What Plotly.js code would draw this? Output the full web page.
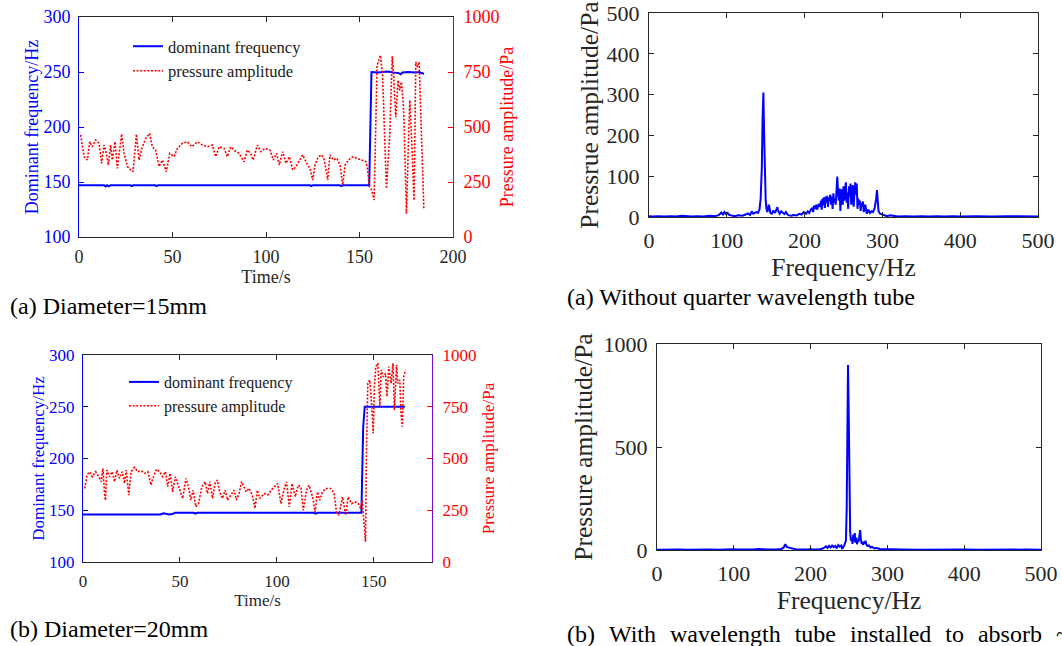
<!DOCTYPE html>
<html><head><meta charset="utf-8">
<script src="https://cdn.plot.ly/plotly-3.0.1.min.js"></script>
<style>html,body{margin:0;padding:0;background:#fff;overflow:hidden}#chart{width:1062px;height:646px}</style>
</head><body><div id="chart"></div>
<script>
// ---------- Panel (a) Diameter=15mm ----------
const freqA_t = [0,13.5,14.2,15,16,16.8,27.5,28.2,29,40.8,41.5,42.2,123.5,124.2,125,139.5,140.2,141,155.2,156.4,160,165,168,170,171,172,173,176,180,182,183,184.5];
const freqA_f = [147,147,146,147,146,147,147,146.3,147,147,146.3,147,147,146.3,147,147,146.3,147,147,250,249.5,250.5,249.5,249.5,249,248,249.5,250,249.5,250,249,248.5];
const presA_t = [0.9,2.7,4.5,5.7,7.1,8.9,10.7,12.1,13.4,14.6,15.7,16.9,17.8,19.3,20.5,21.8,22.8,24.1,25.9,27.6,28.9,30.7,32.1,33.9,35.7,37.8,39.2,41,42.8,44.6,46.7,48.5,50.8,52.6,55.3,57.9,60.3,63.3,66,68.6,71.3,73.1,74.9,77.6,79.3,81.1,83.8,85.6,88.3,90,91.8,93.1,95.4,97.2,99.5,102.1,103.9,105.7,107.1,108.9,110.7,112.5,114.3,116,117.8,119.6,121.8,123.5,125,126.2,128,129.8,131.2,133,134.2,136,137.8,139.6,141,142.3,144,146.4,148.5,151.2,153.5,154.2,155.3,156.5,157.8,159.4,161.2,162.3,164.4,166.2,167.5,168.3,169.4,170.6,171.5,172.4,173.3,173.8,175.1,176.2,176.9,177.9,179.2,180.1,181,181.9,183.1,184.4];
const presA_v = [464,365,350,433,410,441,426,335,418,380,327,418,350,433,312,410,468,380,320,305,297,468,350,410,448,471,410,395,320,350,297,380,365,403,426,433,410,433,418,410,418,365,410,403,365,410,388,380,342,395,380,350,418,388,403,395,350,380,327,388,335,365,305,320,350,373,335,312,259,327,365,373,350,259,373,350,358,327,236,327,350,365,358,350,342,312,229,214,168,780,826,742,220,470,821,727,545,712,667,705,621,530,106,439,621,439,167,795,773,795,470,129];

// ---------- Panel (b) Diameter=20mm ----------
const freqB_t = [0,40,41.5,43,44.5,46,47.5,57,58,59,62,63,64,66,67,68,119,120,121,143.6,144.5,145.3,166];
const freqB_f = [146,146,147,146.3,146,146.3,147.5,147.5,146.8,147.5,147.5,146.8,147.5,147.5,146.8,147.5,147.5,146.7,147.5,147.5,230,250,250];
const presB_t = [0.9,2.1,3.4,4.8,6.5,8.2,9.4,10.3,11.1,11.6,12.3,13.7,15.1,16.3,17.5,18.8,20.2,21.4,22.3,23.6,24.8,26.5,28.2,30,31.7,33.4,35.1,36.3,38,39.7,41.1,42.5,43.7,44.9,46.2,47.6,48.8,50,51.4,53.1,54.4,55.6,56.8,58.2,59.6,61.3,63,64.2,65.4,66.8,68.1,69.3,70.5,71.9,73.3,74.5,76.2,77.9,79.1,80.5,81.8,83,84.2,85.6,87.3,88.7,89.9,91.1,93.6,95.3,97,98.7,100.4,102.1,103.8,105,106.4,107.8,109.5,111,112.4,113.6,115.3,116.6,118.4,119.7,120.9,122.1,123.5,125.2,127.8,129.5,130.7,132,133.8,135.5,136.8,138.5,140.3,142,143.2,144,144.5,145.7,146.2,146.9,147.9,148.5,149.7,150.3,151,152.1,153.1,153.8,154.8,156,156.8,157.7,158.9,159.9,160.6,161.7,162.3,163.4,164,164.7,165.4,166.3];
const presB_v = [356,420,436,412,436,412,388,452,331,298,444,412,436,388,444,404,436,380,444,323,436,457,436,441,428,436,372,412,449,433,412,436,364,428,339,412,380,347,307,404,364,299,347,267,283,364,388,331,388,307,380,396,339,307,347,299,323,347,299,331,388,364,339,356,323,259,347,307,331,323,347,363,379,282,355,387,266,379,315,371,363,250,347,371,315,242,339,298,339,355,355,331,242,226,315,226,315,282,290,282,258,298,235,98,541,863,879,815,622,847,944,960,750,928,895,911,799,944,863,960,734,952,863,879,718,654,895,928];

// ---------- Spectrum (a) Without quarter wavelength tube ----------
const specA_f = [0,5,12,20,28,35,42,48,55,62,70,78,85,90,93,95,97,99,101,103,106,110,115,120,124,127,130,132,134,136,138,140,142,143.5,145,146,147,148,149,150,151,152,153,154,155,156,158,160,162,164,165,166,168,170,172,174,176,178,180,183,186,190,193,196,199,202,204,206,208,210,211,212,214,215,216,218,220,221,222,223,224,225,226,227,228,229,230,231,232,233,234,235,236,237,238,239,240,241,242,243,244,245,246,247,248,249,250,251,252,253,254,255,256,257,258,259,260,261,262,263,264,265,266,267,268,269,270,271,272,273,274,275,276,278,280,282,284,286,288,290,292,293,294,295,297,300,303,306,310,315,320,330,340,350,360,370,380,390,400,420,440,460,480,500];
const specA_p = [2,1,2,1,2,1,3,2,1,2,1,3,2,5,11,6,12,7,10,5,3,2,4,3,6,9,5,14,8,11,12,10,18,45,120,240,305,200,70,40,20,12,18,30,22,10,8,16,10,20,24,15,8,14,10,7,12,6,4,3,5,4,8,6,12,8,14,10,18,22,12,28,20,30,18,32,25,40,18,45,30,48,22,50,35,52,25,48,40,55,30,50,20,58,35,45,30,70,99,60,40,70,15,55,68,30,75,40,80,85,35,60,20,75,50,82,30,60,78,25,70,85,55,82,20,45,30,40,15,35,25,38,12,30,8,18,10,14,12,22,45,66,40,15,8,6,3,2,4,2,1,2,1,2,1,2,1,2,1,2,1,2,1,1];

// ---------- Spectrum (b) With wavelength tube ----------
const specB_f = [0,10,20,30,40,50,60,70,80,90,100,105,115,125,132,136,145,155,162,165,167,169,172,175,180,190,198,200,203,210,215,218,220,222,224,226,228,230,232,234,236,238,240,241,242,244,245,246,247,248,248.7,249.5,250.5,251.5,252.5,253.5,254.5,255.5,256.5,257.5,258.5,259.5,260.5,261.5,262.5,263.5,264.5,265.5,266.5,267.5,268.5,269.5,270.5,271.5,272.5,274,276,278,280,283,286,290,295,300,305,310,320,340,360,380,400,420,440,460,480,500];
const specB_p = [1,2,1,2,1,2,1,2,1,3,4,2,1,2,5,3,2,3,5,12,28,15,10,8,4,2,3,6,2,3,6,12,18,10,20,12,22,14,20,8,24,16,22,6,10,25,40,45,200,700,898,700,250,90,45,60,30,75,40,82,35,60,28,50,40,65,97,55,30,38,25,42,30,45,28,20,22,12,15,8,10,5,4,6,2,1,2,1,2,1,2,1,2,1,2,1];

// ---------- Text ----------
const GAP = '\u00A0\u00A0\u200A';
const captions = ["(a) Diameter=15mm", "(b) Diameter=20mm", "(a) Without quarter wavelength tube",
  ["(b)", "With", "wavelength", "tube", "installed", "to", "absorb", "~"].join(GAP)];
const legendNames = ["dominant frequency", "pressure amplitude"];
const ticksTime = [0,50,100,150,200];
const ticksFreqLeft = [100,150,200,250,300];
const ticksPresRight = [0,250,500,750,1000];
const ticksHz = [0,100,200,300,400,500];
const ticksSpecA = [0,100,200,300,400,500];
const ticksSpecB = [0,500,1000];

const W = 1062, H = 646;
const SERIF = '"Liberation Serif", "Times New Roman", serif';
const BLUE = '#0000ff', RED = '#ff0000', DARK = '#262626', PURPLE = '#7a10d8';
const dx = (a, b) => [a / W, b / W];
const dy = (top, bottom) => [1 - bottom / H, 1 - top / H];

function axis(o) {
  return Object.assign({
    showgrid: false, zeroline: false, showline: true, linewidth: 1,
    ticks: 'inside', ticklen: 5, tickwidth: 1, fixedrange: true
  }, o);
}

const DOTS = '2px,1.6px';
const traces = [
  {x: freqA_t, y: freqA_f, xaxis: 'x', yaxis: 'y', mode: 'lines', name: legendNames[0], legend: 'legend',
   line: {color: BLUE, width: 2}},
  {x: presA_t, y: presA_v, xaxis: 'x', yaxis: 'y2', mode: 'lines', name: legendNames[1], legend: 'legend',
   line: {color: RED, width: 1.6, dash: DOTS}},
  {x: freqB_t, y: freqB_f, xaxis: 'x2', yaxis: 'y3', mode: 'lines', name: legendNames[0], legend: 'legend2',
   line: {color: BLUE, width: 2}},
  {x: presB_t, y: presB_v, xaxis: 'x2', yaxis: 'y4', mode: 'lines', name: legendNames[1], legend: 'legend2',
   line: {color: RED, width: 1.6, dash: DOTS}},
  {x: specA_f, y: specA_p, xaxis: 'x3', yaxis: 'y5', mode: 'lines', showlegend: false,
   line: {color: BLUE, width: 2}},
  {x: specB_f, y: specB_p, xaxis: 'x4', yaxis: 'y6', mode: 'lines', showlegend: false,
   line: {color: BLUE, width: 2}}
];

const fnt = (s, c) => ({family: SERIF, size: s, color: c});

const layout = {
  width: W, height: H,
  margin: {l: 0, r: 0, t: 0, b: 0},
  paper_bgcolor: '#fff', plot_bgcolor: '#fff',
  showlegend: true,
  // Panel (a)
  xaxis: axis({domain: dx(79, 453), anchor: 'y', range: [0, 200], tickvals: ticksTime,
    linecolor: DARK, tickcolor: DARK, mirror: 'ticks', tickfont: fnt(18, DARK), ticklabelstandoff: 3,
    title: {text: 'Time/s', font: fnt(18, DARK), standoff: 0}}),
  yaxis: axis({domain: dy(17, 237), anchor: 'x', range: [100, 300], tickvals: ticksFreqLeft,
    linecolor: BLUE, tickcolor: BLUE, tickfont: fnt(18, BLUE), ticklabelstandoff: 4,
    title: {text: 'Dominant frequency/Hz', font: fnt(18, BLUE), standoff: 0}}),
  yaxis2: axis({overlaying: 'y', side: 'right', anchor: 'x', range: [0, 1000], tickvals: ticksPresRight,
    linecolor: PURPLE, tickcolor: RED, tickfont: fnt(18, RED), ticklabelstandoff: 6,
    title: {text: 'Pressure amplitude/Pa', font: fnt(18, RED), standoff: 1}}),
  // Panel (b)
  xaxis2: axis({domain: dx(83, 432), anchor: 'y3', range: [0, 180], tickvals: ticksTime.slice(0, 4),
    linecolor: DARK, tickcolor: DARK, mirror: 'ticks', tickfont: fnt(17, DARK), ticklabelstandoff: 4,
    title: {text: 'Time/s', font: fnt(17, DARK), standoff: 0}}),
  yaxis3: axis({domain: dy(355, 562), anchor: 'x2', range: [100, 300], tickvals: ticksFreqLeft,
    linecolor: BLUE, tickcolor: BLUE, tickfont: fnt(17, BLUE), ticklabelstandoff: 4,
    title: {text: 'Dominant frequency/Hz', font: fnt(17, BLUE), standoff: 0}}),
  yaxis4: axis({overlaying: 'y3', side: 'right', anchor: 'x2', range: [0, 1000], tickvals: ticksPresRight,
    linecolor: PURPLE, tickcolor: RED, tickfont: fnt(17, RED), ticklabelstandoff: 6,
    title: {text: 'Pressure amplitude/Pa', font: fnt(17, RED), standoff: 6}}),
  // Spectrum (a)
  xaxis3: axis({domain: dx(649, 1038), anchor: 'y5', range: [0, 500], tickvals: ticksHz,
    linecolor: DARK, tickcolor: DARK, mirror: 'ticks', tickfont: fnt(22, DARK), ticklabelstandoff: 4,
    title: {text: 'Frequency/Hz', font: fnt(25.5, DARK), standoff: 0}}),
  yaxis5: axis({domain: dy(13, 217), anchor: 'x3', range: [0, 500], tickvals: ticksSpecA,
    linecolor: DARK, tickcolor: DARK, mirror: 'ticks', tickfont: fnt(22, DARK), ticklabelstandoff: 4,
    title: {text: 'Pressrue amplitude/Pa', font: fnt(25.5, DARK), standoff: 0}}),
  // Spectrum (b)
  xaxis4: axis({domain: dx(657, 1041), anchor: 'y6', range: [0, 500], tickvals: ticksHz,
    linecolor: DARK, tickcolor: DARK, mirror: 'ticks', tickfont: fnt(22, DARK), ticklabelstandoff: 4,
    title: {text: 'Frequency/Hz', font: fnt(25.5, DARK), standoff: 0}}),
  yaxis6: axis({domain: dy(344, 550), anchor: 'x4', range: [0, 1000], tickvals: ticksSpecB,
    linecolor: DARK, tickcolor: DARK, mirror: 'ticks', tickfont: fnt(22, DARK), ticklabelstandoff: 4,
    title: {text: 'Pressure amplitude/Pa', font: fnt(25.5, DARK), standoff: 3}}),
  legend: {x: 128 / W, xanchor: 'left', y: 1 - 29 / H, yanchor: 'top', bgcolor: 'rgba(0,0,0,0)',
    borderwidth: 0, font: fnt(16.5, '#1a1a1a'), traceorder: 'normal'},
  legend2: {x: 124 / W, xanchor: 'left', y: 1 - 365 / H, yanchor: 'top', bgcolor: 'rgba(0,0,0,0)',
    borderwidth: 0, font: fnt(16, '#1a1a1a'), traceorder: 'normal'},
  annotations: [
    {text: captions[0], x: 8 / W, y: 1 - 306 / H, xref: 'paper', yref: 'paper', xanchor: 'left', yanchor: 'middle',
     showarrow: false, font: fnt(24, '#000')},
    {text: captions[1], x: 8 / W, y: 1 - 629 / H, xref: 'paper', yref: 'paper', xanchor: 'left', yanchor: 'middle',
     showarrow: false, font: fnt(24, '#000')},
    {text: captions[2], x: 565 / W, y: 1 - 297 / H, xref: 'paper', yref: 'paper', xanchor: 'left', yanchor: 'middle',
     showarrow: false, font: fnt(24, '#000')},
    {text: captions[3], x: 565 / W, y: 1 - 634 / H, xref: 'paper', yref: 'paper', xanchor: 'left', yanchor: 'middle',
     showarrow: false, font: fnt(24, '#000')}
  ]
};

Plotly.newPlot('chart', traces, layout, {staticPlot: true, displayModeBar: false});
</script>
</body></html>
